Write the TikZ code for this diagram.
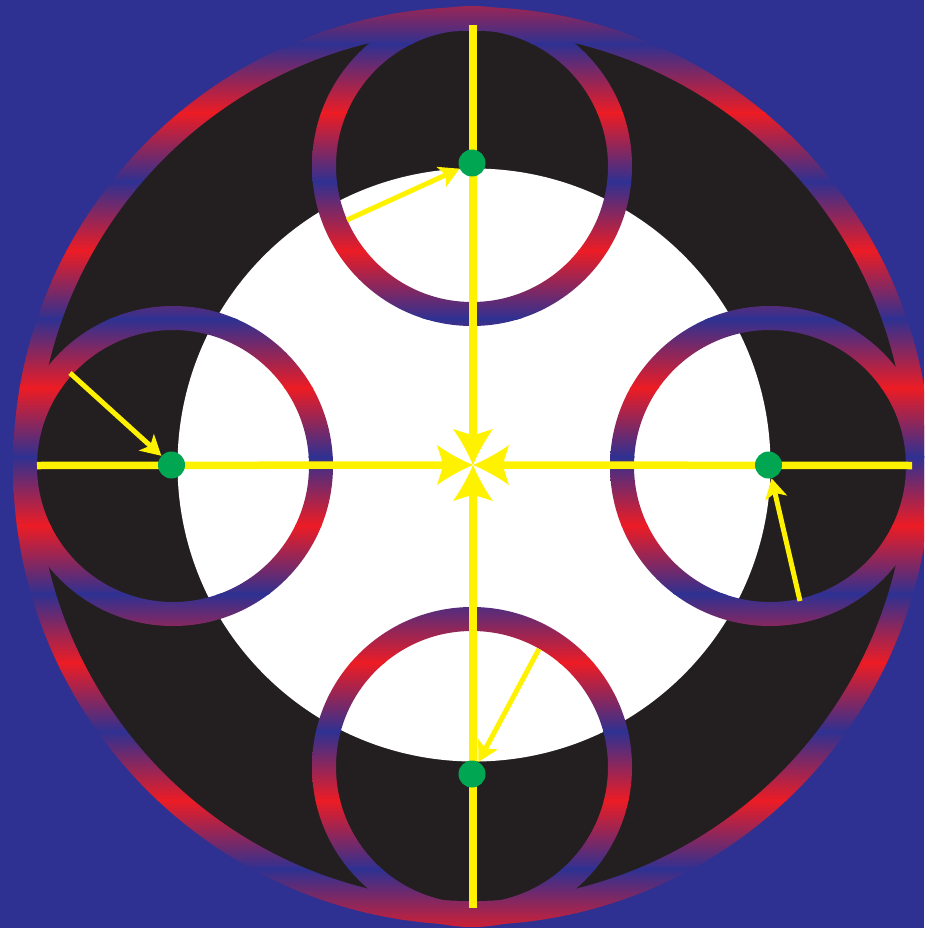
\documentclass[tikz,border=0pt]{standalone}
\usetikzlibrary{arrows.meta}
\definecolor{bgblue}{HTML}{2E3192}
\definecolor{ringred}{HTML}{ED1C24}
\definecolor{darkfill}{HTML}{231F20}
\definecolor{dotgreen}{HTML}{00A651}
\definecolor{arrowyellow}{HTML}{FFF200}

\pgfdeclarearrow{
  name = Maltese,
  parameters = {\the\pgfarrowlength,\the\pgfarrowwidth},
  setup code = {
    \pgfarrowssettipend{0pt}
    \pgfarrowssetlineend{-.6\pgfarrowlength}
    \pgfarrowssetvisualbackend{-.82\pgfarrowlength}
    \pgfarrowssetbackend{-\pgfarrowlength}
    \pgfarrowssavethe\pgfarrowlength
    \pgfarrowssavethe\pgfarrowwidth
  },
  drawing code = {
    \pgfpathmoveto{\pgfqpoint{0pt}{0pt}}
    \pgfpathcurveto{\pgfpoint{-.35\pgfarrowlength}{.13\pgfarrowwidth}}{\pgfpoint{-.72\pgfarrowlength}{.32\pgfarrowwidth}}{\pgfpoint{-\pgfarrowlength}{.5\pgfarrowwidth}}
    \pgfpathcurveto{\pgfpoint{-.93\pgfarrowlength}{.32\pgfarrowwidth}}{\pgfpoint{-.87\pgfarrowlength}{.12\pgfarrowwidth}}{\pgfpoint{-.82\pgfarrowlength}{0pt}}
    \pgfpathcurveto{\pgfpoint{-.87\pgfarrowlength}{-.12\pgfarrowwidth}}{\pgfpoint{-.93\pgfarrowlength}{-.32\pgfarrowwidth}}{\pgfpoint{-\pgfarrowlength}{-.5\pgfarrowwidth}}
    \pgfpathcurveto{\pgfpoint{-.72\pgfarrowlength}{-.32\pgfarrowwidth}}{\pgfpoint{-.35\pgfarrowlength}{-.13\pgfarrowwidth}}{\pgfqpoint{0pt}{0pt}}
    \pgfpathclose
    \pgfusepathqfill
  },
  defaults = {length=36pt, width=38pt}
}

\newcommand\stripefill{%
  \foreach \k in {-1,...,6}{%
    \pgfmathsetmacro\ya{113+137.5*\k}%
    \pgfmathsetmacro\yb{\ya+68.75}%
    \pgfmathsetmacro\yc{\ya+137.5}%
    \shade[top color=ringred,bottom color=bgblue] (0,\ya-0.4) rectangle (924,\yb+0.4);
    \shade[top color=bgblue,bottom color=ringred] (0,\yb-0.4) rectangle (924,\yc+0.4);
  }}

\begin{document}
\begin{tikzpicture}[x=1pt,y=-1pt,
  dot/.style={circle, fill=dotgreen, minimum size=27pt, inner sep=0pt},
  mainarrow/.style={draw=arrowyellow, fill=arrowyellow, line width=7.5pt, -{Maltese[length=36pt,width=40pt]}},
  smallarrow/.style={draw=arrowyellow, fill=arrowyellow, line width=5pt, -{Stealth[length=20pt,width=22pt,inset=5pt]}}]
\useasboundingbox (0,0) rectangle (924,928);
\clip (0,0) rectangle (924,928);
\fill[bgblue] (0,0) rectangle (924,928);
\coordinate (C) at (472,466);
% big striped disk
\begin{scope}
  \clip (C) circle[radius=459pt];
  \stripefill
\end{scope}
% dark disk and white disk
\fill[darkfill] (C) circle[radius=435pt];
\fill[white] (474,465) circle[radius=296.5pt];
% four striped rings
\foreach \p in {(472,166),(173,466),(770,466),(472,767)}{%
  \begin{scope}[even odd rule]
    \clip \p circle[radius=160pt] \p circle[radius=136pt];
    \stripefill
  \end{scope}
}
% main connectors
\coordinate (O) at (473,465);
\coordinate (eT) at (473,25);
\coordinate (eB) at (473,908);
\coordinate (eL) at (37,465.5);
\coordinate (eR) at (912,465.5);
\draw[mainarrow] (eT) -- (O);
\draw[mainarrow] (eB) -- (O);
\draw[mainarrow] (eL) -- (O);
\draw[mainarrow] (eR) -- (O);
% green dots
\node[dot] (dT) at (472,163) {};
\node[dot] (dL) at (171.5,465) {};
\node[dot] (dR) at (768.5,465) {};
\node[dot] (dB) at (472,774) {};
% radius arrows
\coordinate (sT) at (347,220);
\coordinate (sL) at (70,373);
\coordinate (sR) at (800,601);
\coordinate (sB) at (539,649);
\draw[smallarrow] (sT) -- (dT);
\draw[smallarrow] (sL) -- (dL);
\draw[smallarrow] (sR) -- (dR);
\draw[smallarrow] (sB) -- (dB);
\end{tikzpicture}
\end{document}
